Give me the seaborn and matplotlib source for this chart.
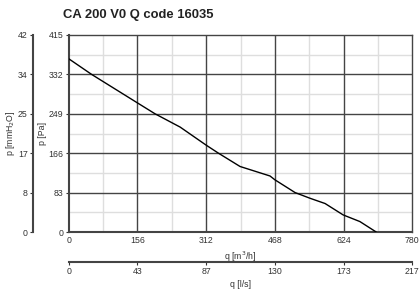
import numpy as np
import pandas as pd
import matplotlib
matplotlib.use("Agg")
import matplotlib.pyplot as plt
import seaborn as sns

# data
q_m3h = [0, 52, 156, 196, 253, 312, 340, 389, 457, 468, 514, 548, 582, 623, 661, 698]
p_pa = [365, 332, 272, 249, 221, 183, 166, 138, 118, 110, 83, 71, 60, 36, 22, 0]

pa_ticks = [0, 83, 166, 249, 332, 415]
mm_labels = ["0", "8", "17", "25", "34", "42"]
q_ticks = [0, 156, 312, 468, 624, 780]
ls_labels = ["0", "43", "87", "130", "173", "217"]

df = pd.DataFrame({"q": q_m3h, "p": p_pa})

sns.set_style("white")
plt.rcParams["font.family"] = ["Liberation Sans", "DejaVu Sans"]

W, H = 419, 289
fig = plt.figure(figsize=(W / 100, H / 100), dpi=100)
ax = fig.add_axes([68.7 / W, 1 - 232 / H, 343.6 / W, 197 / H])

tick_col = "#333333"
major_col = "#444444"
minor_col = "#dedede"
fs = 6.3

# grid
for v in q_ticks[1:-1]:
    ax.axvline(v, color=major_col, lw=1.0, zorder=1)
for v in [78, 234, 390, 546, 702]:
    ax.axvline(v, color=minor_col, lw=1.0, zorder=0)
for v in pa_ticks[1:-1]:
    ax.axhline(v, color=major_col, lw=1.0, zorder=1)
for v in [41.5, 124.5, 207.5, 290.5, 373.5]:
    ax.axhline(v, color=minor_col, lw=1.0, zorder=0)

sns.lineplot(data=df, x="q", y="p", ax=ax, color="black", lw=1.0, zorder=3)

ax.set_xlim(0, 780)
ax.set_ylim(0, 415)
ax.set_xticks(q_ticks)
ax.set_yticks(pa_ticks)
ax.set_xticklabels([str(v) for v in q_ticks])
ax.set_yticklabels([str(v) for v in pa_ticks])
ax.tick_params(axis="both", labelsize=fs, colors=tick_col, length=2, width=0.8,
               direction="out", pad=2)
ax.tick_params(axis="x", length=0, pad=3)
ax.set_xlabel("q [m$^3$/h]", fontsize=fs, color=tick_col, labelpad=3)
ax.set_ylabel("p [Pa]", fontsize=fs, color=tick_col, labelpad=1)
for s in ax.spines.values():
    s.set_color(major_col)
    s.set_linewidth(1.0)
ax.spines["left"].set_linewidth(1.5)
ax.spines["bottom"].set_linewidth(1.5)

# mmH2O axis on the far left
ax_mm = ax.twinx()
ax_mm.set_ylim(0, 415)
ax_mm.yaxis.set_ticks_position("left")
ax_mm.yaxis.set_label_position("left")
ax_mm.spines["left"].set_position(("outward", 26))
for k in ["right", "top", "bottom"]:
    ax_mm.spines[k].set_visible(False)
ax_mm.spines["left"].set_color(major_col)
ax_mm.spines["left"].set_linewidth(1.5)
ax_mm.set_yticks(pa_ticks)
ax_mm.set_yticklabels(mm_labels)
ax_mm.tick_params(axis="y", labelsize=fs, colors=tick_col, length=2, width=0.8, pad=1.5)
ax_mm.set_ylabel("p [mmH$_2$O]", fontsize=fs, color=tick_col, labelpad=0.5)

# l/s axis below
ax_ls = ax.twiny()
ax_ls.set_xlim(0, 780)
ax_ls.xaxis.set_ticks_position("bottom")
ax_ls.xaxis.set_label_position("bottom")
ax_ls.spines["bottom"].set_position(("outward", 21.5))
for k in ["right", "top", "left"]:
    ax_ls.spines[k].set_visible(False)
ax_ls.spines["bottom"].set_color(major_col)
ax_ls.spines["bottom"].set_linewidth(1.5)
ax_ls.set_xticks(q_ticks)
ax_ls.set_xticklabels(ls_labels)
ax_ls.tick_params(axis="x", labelsize=fs, colors=tick_col, length=2, width=0.8, pad=1.5)
ax_ls.set_xlabel("q [l/s]", fontsize=fs, color=tick_col, labelpad=3)

fig.text(63 / W, 1 - 15 / H, "CA 200 V0 Q code 16035", fontsize=9.4,
         fontweight="bold", color="#222222", va="center", ha="left")

fig.savefig("out.png", dpi=100)
